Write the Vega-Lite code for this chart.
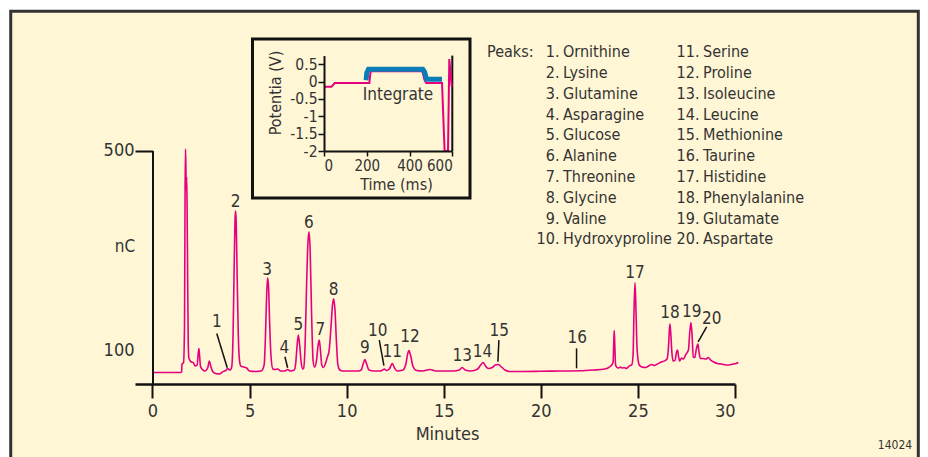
{
  "$schema": "https://vega.github.io/schema/vega-lite/v6.json",
  "width": 928,
  "height": 457,
  "autosize": "none",
  "padding": 0,
  "background": "white",
  "config": {
    "view": {"stroke": null},
    "font": "Liberation Sans Narrow, DejaVu Sans Condensed, sans-serif",
    "axis": {"zindex": 1, "labelOverlap": false, "domainColor": "#111", "tickColor": "#111", "labelColor": "#333", "titleColor": "#333", "titleFontWeight": "normal", "grid": false, "labelFont": "Liberation Sans Narrow, DejaVu Sans Condensed, sans-serif", "titleFont": "Liberation Sans Narrow, DejaVu Sans Condensed, sans-serif"}
  },
  "datasets": {
    "one": [{}],
    "chrom": [
      {"t":0,"v":55},{"t":0.5,"v":55},{"t":1.0,"v":55},{"t":1.45,"v":55},{"t":1.5,"v":56},{"t":1.52,"v":72},{"t":1.6,"v":75},{"t":1.65,"v":150},{"t":1.68,"v":420},{"t":1.7,"v":503},{"t":1.72,"v":470},{"t":1.74,"v":420},{"t":1.76,"v":447},{"t":1.78,"v":400},{"t":1.81,"v":250},{"t":1.84,"v":120},{"t":1.87,"v":85},{"t":1.92,"v":80},{"t":2.0,"v":76},{"t":2.1,"v":75},{"t":2.2,"v":68},{"t":2.3,"v":70},{"t":2.36,"v":95},{"t":2.39,"v":103},{"t":2.42,"v":92},{"t":2.47,"v":68},{"t":2.55,"v":62},{"t":2.7,"v":58},{"t":2.85,"v":65},{"t":2.93,"v":78},{"t":3.0,"v":68},{"t":3.1,"v":57},{"t":3.25,"v":53},{"t":3.45,"v":52},{"t":3.6,"v":56},{"t":3.7,"v":58},{"t":3.8,"v":60},{"t":3.87,"v":63},{"t":4.0,"v":60},{"t":4.08,"v":66},{"t":4.15,"v":130},{"t":4.2,"v":250},{"t":4.25,"v":360},{"t":4.28,"v":379},{"t":4.31,"v":360},{"t":4.36,"v":250},{"t":4.42,"v":130},{"t":4.48,"v":80},{"t":4.55,"v":68},{"t":4.7,"v":66},{"t":4.85,"v":64},{"t":5.0,"v":58},{"t":5.3,"v":57},{"t":5.6,"v":58},{"t":5.75,"v":70},{"t":5.82,"v":130},{"t":5.88,"v":210},{"t":5.93,"v":245},{"t":5.98,"v":225},{"t":6.03,"v":160},{"t":6.1,"v":90},{"t":6.2,"v":62},{"t":6.3,"v":61},{"t":6.45,"v":62},{"t":6.6,"v":58},{"t":6.8,"v":58},{"t":6.96,"v":61},{"t":7.1,"v":58},{"t":7.3,"v":60},{"t":7.38,"v":75},{"t":7.44,"v":105},{"t":7.51,"v":130},{"t":7.58,"v":110},{"t":7.66,"v":75},{"t":7.74,"v":62},{"t":7.78,"v":63},{"t":7.86,"v":110},{"t":7.93,"v":220},{"t":8.0,"v":310},{"t":8.06,"v":337},{"t":8.12,"v":300},{"t":8.19,"v":180},{"t":8.27,"v":80},{"t":8.35,"v":66},{"t":8.45,"v":80},{"t":8.53,"v":110},{"t":8.59,"v":120},{"t":8.65,"v":100},{"t":8.72,"v":70},{"t":8.8,"v":65},{"t":8.9,"v":72},{"t":9.0,"v":85},{"t":9.1,"v":100},{"t":9.2,"v":150},{"t":9.27,"v":190},{"t":9.33,"v":203},{"t":9.4,"v":180},{"t":9.47,"v":120},{"t":9.55,"v":70},{"t":9.65,"v":60},{"t":9.8,"v":58},{"t":10.0,"v":58},{"t":10.3,"v":58},{"t":10.6,"v":58},{"t":10.75,"v":60},{"t":10.85,"v":72},{"t":10.94,"v":81},{"t":11.03,"v":72},{"t":11.15,"v":60},{"t":11.4,"v":58},{"t":11.7,"v":58},{"t":11.85,"v":60},{"t":11.94,"v":62},{"t":12.05,"v":59},{"t":12.2,"v":62},{"t":12.35,"v":73},{"t":12.48,"v":63},{"t":12.6,"v":58},{"t":12.9,"v":60},{"t":13.05,"v":72},{"t":13.14,"v":92},{"t":13.21,"v":99},{"t":13.3,"v":88},{"t":13.42,"v":67},{"t":13.6,"v":59},{"t":13.9,"v":58},{"t":14.29,"v":61},{"t":14.6,"v":58},{"t":15.0,"v":58},{"t":15.5,"v":58},{"t":15.8,"v":60},{"t":15.95,"v":65},{"t":16.1,"v":60},{"t":16.4,"v":58},{"t":16.75,"v":62},{"t":16.9,"v":70},{"t":17.03,"v":75},{"t":17.15,"v":68},{"t":17.3,"v":63},{"t":17.5,"v":65},{"t":17.65,"v":70},{"t":17.81,"v":71},{"t":17.95,"v":67},{"t":18.15,"v":60},{"t":18.4,"v":57},{"t":19.0,"v":57},{"t":20.0,"v":57.5},{"t":21.0,"v":58},{"t":22.0,"v":58.5},{"t":22.7,"v":60},{"t":23.3,"v":62},{"t":23.6,"v":68},{"t":23.72,"v":75},{"t":23.76,"v":120},{"t":23.78,"v":139},{"t":23.81,"v":110},{"t":23.85,"v":70},{"t":23.9,"v":66},{"t":24.0,"v":64},{"t":24.1,"v":66},{"t":24.2,"v":64},{"t":24.3,"v":65},{"t":24.4,"v":63},{"t":24.5,"v":66},{"t":24.6,"v":69},{"t":24.68,"v":70},{"t":24.75,"v":90},{"t":24.8,"v":180},{"t":24.85,"v":235},{"t":24.9,"v":180},{"t":24.96,"v":100},{"t":25.07,"v":70},{"t":25.2,"v":66},{"t":25.4,"v":65},{"t":25.55,"v":68},{"t":25.7,"v":71},{"t":25.85,"v":69},{"t":26.0,"v":72},{"t":26.2,"v":76},{"t":26.4,"v":79},{"t":26.5,"v":82},{"t":26.58,"v":110},{"t":26.62,"v":140},{"t":26.65,"v":152},{"t":26.69,"v":135},{"t":26.75,"v":95},{"t":26.82,"v":78},{"t":26.92,"v":80},{"t":26.98,"v":95},{"t":27.04,"v":100},{"t":27.09,"v":88},{"t":27.15,"v":78},{"t":27.25,"v":84},{"t":27.35,"v":82},{"t":27.45,"v":90},{"t":27.6,"v":100},{"t":27.67,"v":135},{"t":27.73,"v":155},{"t":27.79,"v":130},{"t":27.85,"v":86},{"t":27.93,"v":85},{"t":28.0,"v":100},{"t":28.09,"v":112},{"t":28.15,"v":95},{"t":28.22,"v":83},{"t":28.35,"v":83},{"t":28.5,"v":82},{"t":28.62,"v":85},{"t":28.75,"v":80},{"t":28.9,"v":76},{"t":29.1,"v":73},{"t":29.3,"v":72},{"t":29.6,"v":70},{"t":29.9,"v":72},{"t":30.05,"v":73},{"t":30.17,"v":75}
    ],
    "peaks": [
      {"label":"1","t":3.31,"v":156.6},{"label":"2","t":4.28,"v":396.6},{"label":"3","t":5.91,"v":261.4},{"label":"4","t":6.79,"v":104.6},{"label":"5","t":7.51,"v":150},{"label":"6","t":8.06,"v":355.4},{"label":"7","t":8.64,"v":140},{"label":"8","t":9.33,"v":220},{"label":"9","t":10.94,"v":103.4},{"label":"10","t":11.6,"v":138.6},{"label":"11","t":12.35,"v":96.6},{"label":"12","t":13.26,"v":126.6},{"label":"13","t":15.95,"v":88.6},{"label":"14","t":17.0,"v":96.6},{"label":"15","t":17.86,"v":138.6},{"label":"16","t":21.87,"v":123.4},{"label":"17","t":24.85,"v":255.4},{"label":"18","t":26.65,"v":173.4},{"label":"19","t":27.77,"v":176.6},{"label":"20","t":28.8,"v":161.4}
    ],
    "leaders": [
      {"peak":"1","t1":3.31,"v1":133.4,"t2":3.85,"v2":64.6},
      {"peak":"4","t1":6.82,"v1":86.6,"t2":6.96,"v2":64.6},
      {"peak":"10","t1":11.68,"v1":120,"t2":11.92,"v2":68.6},
      {"peak":"15","t1":17.84,"v1":120,"t2":17.79,"v2":76.6},
      {"peak":"16","t1":21.84,"v1":103.4,"t2":21.84,"v2":63.4},
      {"peak":"20","t1":28.54,"v1":146.6,"t2":28.1,"v2":116.6}
    ],
    "potential": [
      {"ms":0,"V":-0.15},{"ms":35,"V":-0.15},{"ms":50,"V":-0.04},{"ms":200,"V":-0.04},{"ms":212,"V":-0.04},{"ms":218,"V":0.3},{"ms":460,"V":0.3},{"ms":470,"V":0.05},{"ms":478,"V":-0.04},{"ms":552,"V":-0.04},{"ms":564,"V":-2},{"ms":580,"V":-2},{"ms":586,"V":0.65},{"ms":597,"V":-0.14}
    ],
    "integrate": [
      {"ms":197,"V":0.04},{"ms":200,"V":0.26},{"ms":208,"V":0.355},{"ms":462,"V":0.355},{"ms":470,"V":0.28},{"ms":480,"V":0.07},{"ms":490,"V":0.065},{"ms":552,"V":0.065}
    ],
    "legend": [
      {"n":"1.","name":"Ornithine","col":1,"row":1},{"n":"2.","name":"Lysine","col":1,"row":2},{"n":"3.","name":"Glutamine","col":1,"row":3},{"n":"4.","name":"Asparagine","col":1,"row":4},{"n":"5.","name":"Glucose","col":1,"row":5},{"n":"6.","name":"Alanine","col":1,"row":6},{"n":"7.","name":"Threonine","col":1,"row":7},{"n":"8.","name":"Glycine","col":1,"row":8},{"n":"9.","name":"Valine","col":1,"row":9},{"n":"10.","name":"Hydroxyproline","col":1,"row":10},
      {"n":"11.","name":"Serine","col":2,"row":1},{"n":"12.","name":"Proline","col":2,"row":2},{"n":"13.","name":"Isoleucine","col":2,"row":3},{"n":"14.","name":"Leucine","col":2,"row":4},{"n":"15.","name":"Methionine","col":2,"row":5},{"n":"16.","name":"Taurine","col":2,"row":6},{"n":"17.","name":"Histidine","col":2,"row":7},{"n":"18.","name":"Phenylalanine","col":2,"row":8},{"n":"19.","name":"Glutamate","col":2,"row":9},{"n":"20.","name":"Aspartate","col":2,"row":10}
    ]
  },
  "layer": [
    {
      "encoding": {
        "x": {"type": "quantitative", "scale": {"domain": [-0.9, 30], "range": [135, 735], "nice": false, "zero": false}},
        "y": {"type": "quantitative", "scale": {"domain": [32, 500], "range": [384, 150.5], "nice": false, "zero": false}}
      },
      "layer": [
        {
          "data": {"name": "one"},
          "mark": {"type": "rect", "fill": "#FFF6D5", "stroke": "#333333", "strokeWidth": 3},
          "encoding": {
            "x": {"datum": -7.3, "type": "quantitative",
              "axis": {"orient": "bottom", "zindex": 2, "offset": -73, "labelOverlap": false, "values": [0, 5, 10, 15, 20, 25, 30], "tickSize": 14, "tickWidth": 2, "domainWidth": 2.5, "labelFontSize": 18, "labelPadding": 4, "title": "Minutes", "titleFontSize": 18, "titleX": 447, "titleY": 50, "titleBaseline": "middle", "titleAlign": "center"}},
            "x2": {"datum": 39.44},
            "y": {"datum": 779, "type": "quantitative",
              "axis": {"orient": "left", "zindex": 2, "offset": -152.5, "labelOverlap": false, "values": [100, 500], "tickSize": 17.5, "tickWidth": 2, "domainWidth": 2, "tickOpacity": {"condition": {"test": "datum.value === 100", "value": 0}, "value": 1}, "labelFontSize": 18, "labelPadding": 1, "title": "nC", "titleFontSize": 17, "titleAngle": 0, "titleX": -28, "titleY": 246, "titleAlign": "center", "titleBaseline": "middle"}},
            "y2": {"datum": -140}
          }
        },
        {
          "data": {"name": "chrom"},
          "mark": {"type": "line", "color": "#E6007E", "strokeWidth": 1.6, "interpolate": "monotone"},
          "encoding": {
            "x": {"field": "t", "type": "quantitative"},
            "y": {"field": "v", "type": "quantitative"}
          }
        },
        {
          "data": {"name": "leaders"},
          "mark": {"type": "rule", "color": "#111", "strokeWidth": 1.5},
          "encoding": {
            "x": {"field": "t1", "type": "quantitative"},
            "y": {"field": "v1", "type": "quantitative"},
            "x2": {"field": "t2"},
            "y2": {"field": "v2"}
          }
        },
        {
          "data": {"name": "peaks"},
          "mark": {"type": "text", "fontSize": 17, "color": "#333", "align": "center", "baseline": "middle"},
          "encoding": {
            "x": {"field": "t", "type": "quantitative"},
            "y": {"field": "v", "type": "quantitative"},
            "text": {"field": "label"}
          }
        },
        {
          "data": {"name": "one"},
          "mark": {"type": "text", "fontSize": 12, "color": "#333", "align": "center", "baseline": "middle", "text": "14024"},
          "encoding": {
            "x": {"datum": 38.24, "type": "quantitative"},
            "y": {"datum": -90, "type": "quantitative"}
          }
        }
      ]
    },
    {
      "encoding": {
        "x": {"type": "quantitative", "scale": {"domain": [0, 600], "range": [324, 452.3], "nice": false, "zero": false}},
        "y": {"type": "quantitative", "scale": {"domain": [-2, 0.75], "range": [151, 55.6], "nice": false, "zero": false}}
      },
      "layer": [
        {
          "data": {"name": "one"},
          "mark": {"type": "rect", "fillOpacity": 0, "stroke": "#111", "strokeWidth": 3},
          "encoding": {
            "x": {"datum": -334.4, "type": "quantitative",
              "axis": {"orient": "bottom", "zindex": 2, "offset": -306, "labelOverlap": false, "values": [0, 200, 400, 600], "tickSize": 5, "tickWidth": 1.5, "domainWidth": 2, "labelFontSize": 15, "labelPadding": 2, "title": "Time (ms)", "titleFontSize": 16, "titleX": 396, "titleY": 33, "titleBaseline": "middle", "titleAlign": "center"}},
            "x2": {"datum": 682.8},
            "y": {"datum": 1.229, "type": "quantitative",
              "axis": {"orient": "left", "zindex": 2, "offset": -324, "labelOverlap": false, "values": [-2, -1.5, -1, -0.5, 0, 0.5], "labelExpr": "'' + datum.value", "tickSize": 6, "tickWidth": 1.5, "domainWidth": 2, "labelFontSize": 15.5, "labelPadding": 1, "title": "Potentia (V)", "titleFontSize": 16, "titleAngle": 270, "titleX": -48.5, "titleY": 92.5, "titleAlign": "center", "titleBaseline": "middle"}},
            "y2": {"datum": -3.355}
          }
        },
        {
          "data": {"name": "one"},
          "mark": {"type": "rule", "color": "#111", "strokeWidth": 2},
          "encoding": {
            "x": {"datum": 600, "type": "quantitative"},
            "y": {"datum": 0.75, "type": "quantitative"},
            "y2": {"datum": -2}
          }
        },
        {
          "data": {"name": "potential"},
          "mark": {"type": "line", "color": "#E6007E", "strokeWidth": 2},
          "encoding": {
            "x": {"field": "ms", "type": "quantitative"},
            "y": {"field": "V", "type": "quantitative"}
          }
        },
        {
          "data": {"name": "integrate"},
          "mark": {"type": "line", "color": "#0A7DB8", "strokeWidth": 5},
          "encoding": {
            "x": {"field": "ms", "type": "quantitative"},
            "y": {"field": "V", "type": "quantitative"}
          }
        },
        {
          "data": {"name": "one"},
          "mark": {"type": "text", "fontSize": 17, "color": "#333", "align": "center", "baseline": "middle", "text": "Integrate"},
          "encoding": {
            "x": {"datum": 346, "type": "quantitative"},
            "y": {"datum": -0.385, "type": "quantitative"}
          }
        }
      ]
    },
    {
      "encoding": {
        "x": {"type": "quantitative", "axis": null, "scale": {"domain": [1, 2], "range": [559.5, 699.5], "nice": false, "zero": false}},
        "y": {"type": "quantitative", "axis": null, "scale": {"domain": [1, 10], "range": [52.3, 239.3], "nice": false, "zero": false}}
      },
      "layer": [
        {
          "data": {"name": "legend"},
          "mark": {"type": "text", "fontSize": 16, "color": "#333", "align": "right", "baseline": "middle"},
          "encoding": {"x": {"field": "col", "type": "quantitative"}, "y": {"field": "row", "type": "quantitative"}, "text": {"field": "n"}}
        },
        {
          "data": {"name": "legend"},
          "mark": {"type": "text", "fontSize": 16, "color": "#333", "align": "left", "baseline": "middle", "dx": 3.5},
          "encoding": {"x": {"field": "col", "type": "quantitative"}, "y": {"field": "row", "type": "quantitative"}, "text": {"field": "name"}}
        },
        {
          "data": {"name": "one"},
          "mark": {"type": "text", "fontSize": 16, "color": "#333", "align": "right", "baseline": "middle", "dx": -26, "text": "Peaks:"},
          "encoding": {
            "x": {"datum": 1, "type": "quantitative"},
            "y": {"datum": 1, "type": "quantitative"}
          }
        }
      ]
    }
  ],
  "resolve": {"scale": {"x": "independent", "y": "independent"}}
}
